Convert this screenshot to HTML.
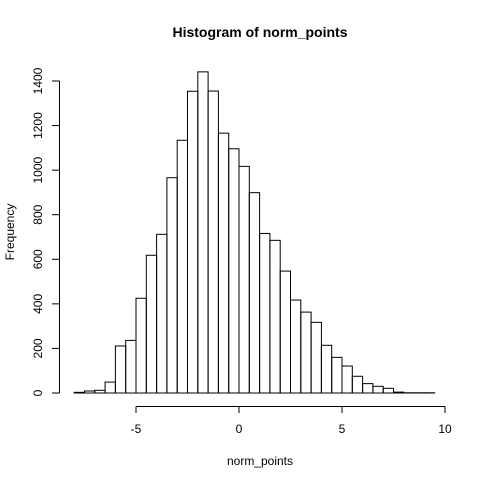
<!DOCTYPE html>
<html><head><meta charset="utf-8"><style>
body{margin:0;background:#fff}
svg{display:block;font-family:"Liberation Sans",Arial,sans-serif}
</style></head><body>
<svg width="480" height="480" viewBox="0 0 480 480">
<text x="260" y="37" text-anchor="middle" font-size="14" font-weight="bold">Histogram of norm_points</text>
<g id="bars"></g>
<g id="xaxis"></g>
<g id="yaxis"></g>
<text x="260" y="465" text-anchor="middle" font-size="12">norm_points</text>
<text transform="translate(14,232) rotate(-90)" text-anchor="middle" font-size="12">Frequency</text>
</svg>
<script>
const binStart = -8;
const binWidth = 0.5;
const counts = [3,9,12,49,211,236,425,618,712,966,1134,1354,1441,1355,1166,1096,1017,899,716,685,547,417,363,317,214,160,121,75,42,30,21,4,1,1,1];
const xTicks = [-5,0,5,10];
const yTicks = [0,200,400,600,800,1000,1200,1400];
const NS="http://www.w3.org/2000/svg";
function xs(v){return 239+v*20.6;}
function ys(v){return 393-v*(312/1400);}
const bars=document.getElementById('bars');
counts.forEach((c,i)=>{
  const x0=xs(binStart+i*binWidth), x1=xs(binStart+(i+1)*binWidth);
  const r=document.createElementNS(NS,'rect');
  r.setAttribute('x',x0);r.setAttribute('y',ys(c));
  r.setAttribute('width',x1-x0);r.setAttribute('height',ys(0)-ys(c));
  r.setAttribute('fill','none');r.setAttribute('stroke','#000');r.setAttribute('stroke-width','1');
  
  
  bars.appendChild(r);
});
const xa=document.getElementById('xaxis');
function line(g,x1,y1,x2,y2){const l=document.createElementNS(NS,'line');l.setAttribute('x1',x1);l.setAttribute('y1',y1);l.setAttribute('x2',x2);l.setAttribute('y2',y2);l.setAttribute('stroke','#000');g.appendChild(l);return l;}
line(xa,xs(xTicks[0]),406.5,xs(xTicks[xTicks.length-1]),406.5);
xTicks.forEach(t=>{
  line(xa,xs(t),406.5,xs(t),413);
  const tx=document.createElementNS(NS,'text');
  tx.setAttribute('x',xs(t));tx.setAttribute('y',433);tx.setAttribute('text-anchor','middle');tx.setAttribute('font-size','12');
  tx.textContent=t;
  
  
  xa.appendChild(tx);
});
const ya=document.getElementById('yaxis');
line(ya,59.5,ys(yTicks[0]),59.5,ys(yTicks[yTicks.length-1]));
yTicks.forEach(t=>{
  line(ya,52,ys(t),59.5,ys(t));
  const tx=document.createElementNS(NS,'text');
  tx.setAttribute('transform','translate(42,'+ys(t)+') rotate(-90)');
  tx.setAttribute('text-anchor','middle');tx.setAttribute('font-size','12');
  tx.textContent=t;
  
  
  ya.appendChild(tx);
});
</script>
</body></html>
